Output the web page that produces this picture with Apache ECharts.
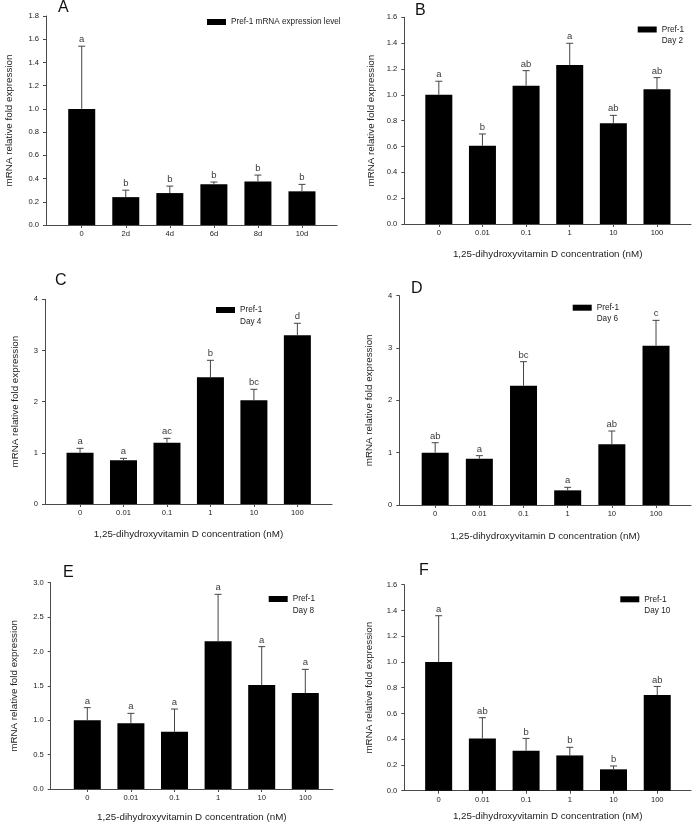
<!DOCTYPE html>
<html>
<head>
<meta charset="utf-8">
<script src="https://cdn.jsdelivr.net/npm/echarts@6/dist/echarts.min.js"></script>
<style>
html,body{margin:0;padding:0;background:#fff;}
#chart{width:693px;height:826px;}
</style>
</head>
<body>
<div id="chart"></div>
<script>
// ---- data ----
const catsTime = ['0', '2d', '4d', '6d', '8d', '10d'];
const catsConc = ['0', '0.01', '0.1', '1', '10', '100'];
const yName = 'mRNA relative fold expression';
const xName = '1,25-dihydroxyvitamin D concentration (nM)';

const meanA = [1.0, 0.24, 0.275, 0.35, 0.375, 0.29];
const topA  = [1.54, 0.30, 0.335, 0.37, 0.43, 0.35];
const letA  = ['a', 'b', 'b', 'b', 'b', 'b'];

const meanB = [1.0, 0.606, 1.071, 1.231, 0.779, 1.043];
const topB  = [1.105, 0.697, 1.187, 1.399, 0.841, 1.133];
const letB  = ['a', 'b', 'ab', 'a', 'ab', 'ab'];

const meanC = [1.0, 0.853, 1.199, 2.476, 2.026, 3.296];
const topC  = [1.088, 0.892, 1.283, 2.808, 2.241, 3.531];
const letC  = ['a', 'a', 'ac', 'b', 'bc', 'd'];

const meanD = [1.0, 0.885, 2.28, 0.28, 1.159, 3.045];
const topD  = [1.19, 0.943, 2.739, 0.338, 1.414, 3.529];
const letD  = ['ab', 'a', 'bc', 'a', 'ab', 'c'];

const meanE = [1.0, 0.955, 0.834, 2.147, 1.512, 1.396];
const topE  = [1.183, 1.100, 1.163, 2.831, 2.07, 1.74];
const letE  = ['a', 'a', 'a', 'a', 'a', 'a'];

const meanF = [1.0, 0.406, 0.311, 0.274, 0.166, 0.743];
const topF  = [1.359, 0.567, 0.406, 0.337, 0.192, 0.810];
const letF  = ['a', 'ab', 'b', 'b', 'b', 'ab'];

const panelData = [
  {id: 'A', cats: catsTime, mean: meanA, top: topA, letters: letA, series: 'Pref-1 mRNA expression level', legend: 'Pref-1 mRNA expression level', day: null, xName: null, ymax: 1.8, step: 0.2, dec: 1},
  {id: 'B', cats: catsConc, mean: meanB, top: topB, letters: letB, series: 'Pref-1 Day 2', legend: 'Pref-1', day: 'Day 2', xName: xName, ymax: 1.6, step: 0.2, dec: 1},
  {id: 'C', cats: catsConc, mean: meanC, top: topC, letters: letC, series: 'Pref-1 Day 4', legend: 'Pref-1', day: 'Day 4', xName: xName, ymax: 4, step: 1, dec: 0},
  {id: 'D', cats: catsConc, mean: meanD, top: topD, letters: letD, series: 'Pref-1 Day 6', legend: 'Pref-1', day: 'Day 6', xName: xName, ymax: 4, step: 1, dec: 0},
  {id: 'E', cats: catsConc, mean: meanE, top: topE, letters: letE, series: 'Pref-1 Day 8', legend: 'Pref-1', day: 'Day 8', xName: xName, ymax: 3, step: 0.5, dec: 1},
  {id: 'F', cats: catsConc, mean: meanF, top: topF, letters: letF, series: 'Pref-1 Day 10', legend: 'Pref-1', day: 'Day 10', xName: xName, ymax: 1.6, step: 0.2, dec: 1}
];

// ---- layout (pixels) ----
const layout = [
  {fx: 46,    fx2: 337, fy: 16,    fy2: 225,   bx: 59.7,  bw: 264.3, yGap: 32, xGap: 24, tx: 58,  ty: 0,   lx: 207,   ly: 23},
  {fx: 404.3, fx2: 691, fy: 17.3,  fy2: 224,   bx: 417,   bw: 261.8, yGap: 28, xGap: 25, tx: 415, ty: 3,   lx: 637.7, ly: 30.5},
  {fx: 45,    fx2: 332, fy: 299.3, fy2: 504,   bx: 58.3,  bw: 260.8, yGap: 25, xGap: 25, tx: 55,  ty: 273, lx: 216,   ly: 311},
  {fx: 399.3, fx2: 691, fy: 295.7, fy2: 505,   bx: 413.1, bw: 265,   yGap: 25, xGap: 26, tx: 411, ty: 281, lx: 572.7, ly: 308.7},
  {fx: 50.7,  fx2: 333, fy: 582.7, fy2: 789,   bx: 65.5,  bw: 261.6, yGap: 31, xGap: 23.5, tx: 63,  ty: 565, lx: 268.7, ly: 600},
  {fx: 404.3, fx2: 691, fy: 584.7, fy2: 790.7, bx: 416.8, bw: 262.3, yGap: 30, xGap: 21, tx: 419, ty: 563, lx: 620.3, ly: 600.3}
];

const FONT = '"Liberation Sans", Arial, sans-serif';
const AXIS_COLOR = '#4a4a4a';
const TEXT_COLOR = '#222';

const option = {
  animation: false,
  backgroundColor: '#fff',
  textStyle: {fontFamily: FONT},
  grid: [], xAxis: [], yAxis: [], series: [], legend: [], title: [], graphic: []
};

panelData.forEach((p, i) => {
  const L = layout[i];
  const fg = 2 * i, bg = 2 * i + 1;
  option.grid.push({left: L.fx, top: L.fy, width: L.fx2 - L.fx, height: L.fy2 - L.fy});
  option.grid.push({left: L.bx, top: L.fy, width: L.bw, height: L.fy2 - L.fy});

  // frame axes
  option.xAxis.push({
    type: 'value', gridIndex: fg, min: 0, max: 1,
    axisLine: {show: true, lineStyle: {color: AXIS_COLOR, width: 1}},
    axisTick: {show: false}, axisLabel: {show: false}, splitLine: {show: false},
    name: p.xName || '', nameLocation: 'middle', nameGap: L.xGap,
    nameTextStyle: {fontSize: 9.8, color: TEXT_COLOR, fontFamily: FONT}
  });
  option.yAxis.push({
    type: 'value', gridIndex: fg, min: 0, max: p.ymax, interval: p.step,
    axisLine: {show: true, lineStyle: {color: AXIS_COLOR, width: 1}},
    axisTick: {show: true, length: 3, lineStyle: {color: AXIS_COLOR}},
    axisLabel: {fontSize: 7.6, color: TEXT_COLOR, margin: 7, fontFamily: FONT,
      formatter: v => v.toFixed(p.dec)},
    splitLine: {show: false},
    name: yName, nameLocation: 'middle', nameGap: L.yGap, nameRotate: 90,
    nameTextStyle: {fontSize: 9.8, color: TEXT_COLOR, fontFamily: FONT}
  });
  // bar axes
  option.xAxis.push({
    type: 'category', gridIndex: bg, data: p.cats,
    axisLine: {show: false},
    axisTick: {show: true, alignWithLabel: true, length: 3, lineStyle: {color: AXIS_COLOR}},
    axisLabel: {fontSize: 7.6, color: TEXT_COLOR, margin: 5, fontFamily: FONT, interval: 0},
    splitLine: {show: false}
  });
  option.yAxis.push({type: 'value', gridIndex: bg, min: 0, max: p.ymax, show: false});

  option.series.push({
    type: 'bar', name: p.series, xAxisIndex: bg, yAxisIndex: bg,
    data: p.mean, barWidth: 27, itemStyle: {color: '#000'}, z: 2
  });
  const letters = p.letters;
  option.series.push({
    type: 'custom', xAxisIndex: bg, yAxisIndex: bg, z: 3,
    data: p.mean.map((m, j) => [j, p.top[j], m]),
    renderItem: (params, api) => {
      const j = api.value(0);
      const p0 = api.coord([j, api.value(2)]);
      const p1 = api.coord([j, api.value(1)]);
      return {
        type: 'group',
        children: [
          {type: 'line', shape: {x1: p0[0], y1: p0[1], x2: p1[0], y2: p1[1]}, style: {stroke: '#444', lineWidth: 1}},
          {type: 'line', shape: {x1: p1[0] - 3.5, y1: p1[1], x2: p1[0] + 3.5, y2: p1[1]}, style: {stroke: '#444', lineWidth: 1}},
          {type: 'text', x: p1[0], y: p1[1] - 1.5, style: {text: letters[params.dataIndex], textAlign: 'center', textVerticalAlign: 'bottom', fontSize: 9.5, fill: '#3a3a3a', fontFamily: FONT}}
        ]
      };
    }
  });

  option.legend.push({
    data: [p.series], left: L.lx, top: L.ly - 5, padding: 0, icon: 'rect',
    itemWidth: 19, itemHeight: 6, selectedMode: false,
    formatter: () => p.legend,
    textStyle: {fontSize: 8.2, color: TEXT_COLOR, fontFamily: FONT}
  });
  if (p.day) {
    option.graphic.push({
      type: 'text', left: L.lx + 24, top: L.ly + 6.5,
      style: {text: p.day, fontSize: 8.2, fill: TEXT_COLOR, fontFamily: FONT}
    });
  }
  option.title.push({
    text: p.id, left: L.tx, top: L.ty, padding: 0,
    textStyle: {fontSize: 16, fontWeight: 'normal', color: '#111', fontFamily: FONT}
  });
});

const chart = echarts.init(document.getElementById('chart'), null, {renderer: 'canvas'});
chart.setOption(option);
</script>
</body>
</html>
